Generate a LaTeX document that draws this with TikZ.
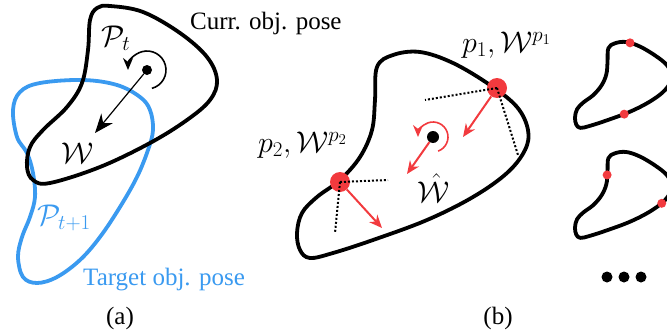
\RequirePackage{fix-cm}
\documentclass[tikz,border=0pt]{standalone}
\usepackage{fontspec}
\setmainfont{Liberation Serif}
\usetikzlibrary{arrows.meta}
\definecolor{posblue}{HTML}{3A9AF0}
\definecolor{ctred}{HTML}{F23A3E}
\tikzset{
  obj/.style={draw=black, line width=3.8pt, line join=round},
  tgt/.style={obj, draw=posblue},
  bdot/.style={circle, fill=black, inner sep=0pt, minimum size=#1},
  rdot/.style={circle, fill=ctred, inner sep=0pt, minimum size=#1},
  arr/.style={-{Stealth[length=19pt, width=15pt]}, line width=1.2pt},
  rot/.style={-{Stealth[length=12pt, width=10pt]}, line width=1.6pt},
  rarr/.style={-{Stealth[length=13pt, width=11pt]}, line width=2pt, draw=ctred},
  rrot/.style={rot, draw=ctred},
  fric/.style={dotted, line width=2pt},
  lbl/.style={font=\fontsize{25}{30}\selectfont, inner sep=0pt},
  mlbl/.style={font=\fontsize{30}{36}\selectfont, inner sep=0pt},
}
% contour of the object in (b), local px coordinates
\def\objcontour{(80,15) (96,3) (123,0) (156,11) (193,33) (220,55) (231,78)
  (228,98) (210,121) (176,145) (130,168) (76,188) (36,201) (13,206) (3,198)
  (0,181) (5,161) (20,145) (43,128) (63,105) (75,78) (78,48)}
\begin{document}
\begin{tikzpicture}[x=1pt, y=-1pt]
  \useasboundingbox (0,0) rectangle (667,332);
  % (a) current and target pose
  \draw[tgt] plot[smooth cycle, tension=0.6] coordinates {(13,110) (20,92) (40,83)
    (83,80) (117,85) (140,97) (150,110) (153,130) (148,150) (137,177) (120,207)
    (100,237) (80,260) (57,277) (37,283) (23,277) (18,257) (22,237) (30,217)
    (35,197) (33,173) (27,153) (17,137)};
  \draw[obj] plot[smooth cycle, tension=0.6] coordinates {(110,6) (143,12) (180,33)
    (207,57) (217,80) (210,100) (187,120) (150,143) (100,167) (50,183) (33,180)
    (27,167) (30,147) (43,130) (67,107) (82,83) (88,50) (90,20) (97,8)};
  \node[bdot=10pt] (ca) at (147,70) {};
  \coordinate (wa) at (95,133);
  \draw[arr] (ca) -- (wa);
  \draw[rot] (ca) ++(75:19) arc[start angle=75, end angle=-180, radius=19];
  \node[mlbl] (pt) at (116,38) {$\mathcal{P}_t$};
  \node[mlbl] (wlab) at (78,153) {$\mathcal{W}$};
  \node[mlbl, text=posblue] (pt1) at (64,218) {$\mathcal{P}_{t+1}$};
  \node[lbl, anchor=base west] (curr) at (190,29) {Curr. obj. pose};
  \node[lbl, anchor=base west, text=posblue] (targ) at (83,285) {Target obj. pose};
  \node[lbl] (capa) at (120,318) {(a)};
  % (b) contacts and wrenches
  \begin{scope}[shift={(297,52)}]
    \draw[obj] plot[smooth cycle, tension=0.6] coordinates {\objcontour};
  \end{scope}
  \node[rdot=20pt] (p1) at (497,88) {};
  \node[rdot=20pt] (p2) at (340,182) {};
  \node[bdot=12pt] (cb) at (433,137) {};
  \coordinate (f1a) at (425,100);
  \coordinate (f1b) at (518,155);
  \coordinate (f2a) at (388,180);
  \coordinate (f2b) at (335,233);
  \draw[fric] (p1.center) -- (f1a);
  \draw[fric] (p1.center) -- (f1b);
  \draw[fric] (p2.center) -- (f2a);
  \draw[fric] (p2.center) -- (f2b);
  \coordinate (w1) at (463,137);
  \coordinate (w2) at (382,228);
  \coordinate (wb) at (407,174);
  \draw[rarr] (p1) -- (w1);
  \draw[rarr] (p2) -- (w2);
  \draw[rarr] (cb) -- (wb);
  \draw[rrot] (cb) ++(70:15) arc[start angle=70, end angle=-180, radius=15];
  \node[mlbl, anchor=base west] (lp1) at (462,52) {$p_1, \mathcal{W}^{p_1}$};
  \node[mlbl, anchor=base west] (lp2) at (258,152) {$p_2, \mathcal{W}^{p_2}$};
  \node[mlbl] (what) at (434,188) {$\hat{\mathcal{W}}$};
  \node[lbl] (capb) at (498,318) {(b)};
  % sampled contact pairs
  \foreach \sy/\ax/\ay/\bx/\by in {42/132/2/118/173, 152/77/55/208/123} {
    \begin{scope}[shift={(575,\sy)}, scale=0.417]
      \draw[obj] plot[smooth cycle, tension=0.6] coordinates {\objcontour};
      \node[rdot=9pt] at (\ax,\ay) {};
      \node[rdot=9pt] at (\bx,\by) {};
    \end{scope}
  }
  \foreach \dx in {607,624,641}
    \node[bdot=11pt] at (\dx,277) {};
\end{tikzpicture}
\end{document}
